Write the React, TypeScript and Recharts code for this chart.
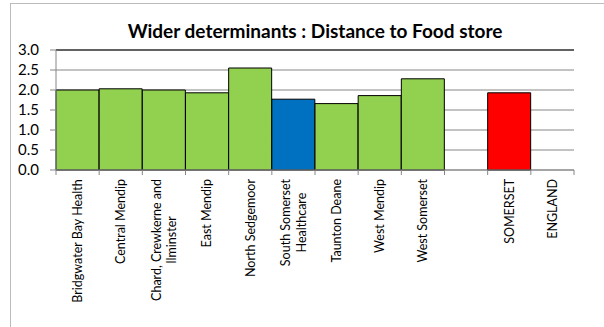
import React from "react";
import { BarChart, Bar, XAxis, YAxis, CartesianGrid, Cell, ReferenceLine } from "recharts";

// categories (line breaks where the original label wraps)
const AREAS = [
  "Bridgwater Bay Health",
  "Central Mendip",
  "Chard, Crewkerne and\nIlminster",
  "East Mendip",
  "North Sedgemoor",
  "South Somerset\nHealthcare",
  "Taunton Deane",
  "West Mendip",
  "West Somerset",
  "",
  "SOMERSET",
  "ENGLAND",
];

const DISTANCE = [2.0, 2.03, 2.0, 1.93, 2.55, 1.77, 1.66, 1.86, 2.28, null, 1.93, null];

const BAR_COLORS = [
  "#92D050", "#92D050", "#92D050", "#92D050", "#92D050", "#0070C0",
  "#92D050", "#92D050", "#92D050", "#92D050", "#FF0000", "#92D050",
];

const Y_TICKS = [0, 0.5, 1, 1.5, 2, 2.5, 3];

const TITLE = "Wider determinants : Distance to Food store";

const FONT = "Lato, 'Noto Sans', sans-serif";
const LABEL_SIZE = 12.5;
const AXIS_GREY = "#868686";

let ctx: CanvasRenderingContext2D | null = null;
function textWidth(s: string, size: number) {
  if (!ctx) ctx = document.createElement("canvas").getContext("2d");
  if (!ctx) return s.length * size * 0.5;
  ctx.font = `${size}px Lato`;
  return ctx.measureText(s).width;
}

// category label rotated upwards + tick marks between categories
function AreaTick(props: any) {
  const { x, y, payload, index, visibleTicksCount } = props;
  const half = payload.offset || 0;
  const lines = String(payload.value).split("\n");
  const maxW = Math.max(0, ...lines.map((l) => textWidth(l, LABEL_SIZE)));
  const lh = 15.5;
  const top = y + 9;
  return (
    <g>
      <line x1={x - half} y1={y} x2={x - half} y2={y + 5} stroke={AXIS_GREY} />
      {index === visibleTicksCount - 1 && (
        <line x1={x + half} y1={y} x2={x + half} y2={y + 5} stroke={AXIS_GREY} />
      )}
      <g transform={`translate(${x},${top}) rotate(-90)`}>
        <text textAnchor="middle" fontSize={LABEL_SIZE} fill="#000" fontFamily={FONT}>
          {lines.map((l, i) => (
            <tspan key={i} x={-maxW / 2} y={(i - (lines.length - 1) / 2) * lh + LABEL_SIZE * 0.35}>
              {l}
            </tspan>
          ))}
        </text>
      </g>
    </g>
  );
}

export default function App() {
  const data = AREAS.map((area, i) => ({ area, value: DISTANCE[i] }));

  return (
    <div
      style={{
        position: "absolute",
        left: 0,
        top: 0,
        width: 604,
        height: 327,
        overflow: "hidden",
        background: "#fff",
        fontFamily: FONT,
      }}
    >
      <div
        style={{
          position: "absolute",
          left: 10,
          top: 3,
          width: 720,
          height: 400,
          border: "1px solid #bcbcbc",
        }}
      />
      <div
        style={{
          position: "absolute",
          left: 56,
          width: 518,
          top: 19,
          textAlign: "center",
          fontWeight: 700,
          fontSize: 19,
          lineHeight: "24px",
          color: "#000",
          whiteSpace: "nowrap",
        }}
      >
        {TITLE}
      </div>
      <div style={{ position: "absolute", left: 0, top: 0 }}>
        <BarChart
          width={604}
          height={327}
          data={data}
          margin={{ top: 50, right: 30, bottom: 0, left: 0 }}
          barCategoryGap={0}
          barGap={0}
        >
          <CartesianGrid vertical={false} stroke={AXIS_GREY} />
          <XAxis
            dataKey="area"
            interval={0}
            height={157}
            tickLine={false}
            tickSize={0}
            tickMargin={0}
            axisLine={{ stroke: AXIS_GREY }}
            tick={<AreaTick />}
          />
          <YAxis
            width={56}
            domain={[0, 3]}
            ticks={Y_TICKS}
            interval={0}
            tickFormatter={(v: number) => v.toFixed(1)}
            tickSize={6}
            tickMargin={11}
            tickLine={{ stroke: AXIS_GREY }}
            axisLine={{ stroke: AXIS_GREY }}
            tick={{ fill: "#000", fontSize: 15, fontFamily: FONT }}
          />
          <YAxis
            yAxisId="right"
            orientation="right"
            width={0}
            domain={[0, 3]}
            tick={false}
            tickLine={false}
            axisLine={{ stroke: "#7a7a7a" }}
          />
          <ReferenceLine y={3} stroke="#000" />
          <Bar dataKey="value" stroke="#000" strokeWidth={1} isAnimationActive={false}>
            {data.map((d, i) => (
              <Cell key={d.area + i} fill={BAR_COLORS[i]} />
            ))}
          </Bar>
        </BarChart>
      </div>
    </div>
  );
}
